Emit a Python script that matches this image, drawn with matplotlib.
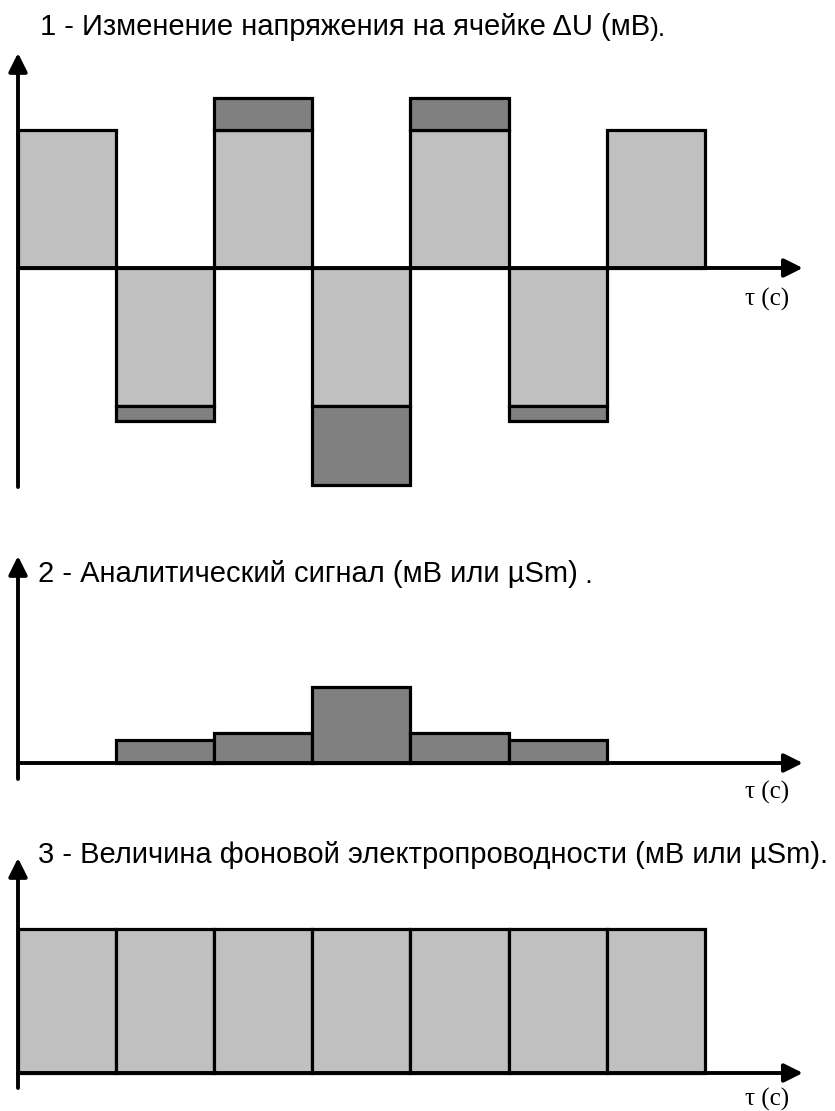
import numpy as np
import matplotlib.pyplot as plt

plt.rcParams['font.family'] = ['Liberation Sans', 'DejaVu Sans']

# --- data (условные единицы) ---
intervals = np.arange(7)                       # 7 интервалов времени
signs = np.array([1, -1, 1, -1, 1, -1, 1])     # полярность
base_du = 10.0                                 # фоновая часть ΔU
extra_du = np.array([0, 1.1, 2.3, 5.7, 2.3, 1.1, 0])   # аналитическая добавка
analytic = np.array([0, 1.7, 2.2, 5.5, 2.2, 1.7, 0])   # аналитический сигнал
background = np.array([10.4, 10.4, 10.4, 10.4, 10.4, 10.4, 10.4])

titles = ['1 - Изменение напряжения на ячейке ΔU (мВ',
          '2 - Аналитический сигнал (мВ или µSm)',
          '3 - Величина фоновой электропроводности (мВ или µSm).']
title_tails = [').', ' .', '']
xlabel = 'τ (с)'

light = '#c0c0c0'
dark = '#808080'

W, H = 835, 1111
px_x = 98.1     # пикселей на интервал
px_y = 13.8     # пикселей на единицу
x0 = 18         # положение оси y

fig = plt.figure(figsize=(W / 100, H / 100), dpi=100)


def make_ax(top, bottom, zero):
    ax = fig.add_axes([0, 1 - bottom / H, 1, (bottom - top) / H])
    ax.set_xlim(-x0 / px_x, (W - x0) / px_x)
    ax.set_ylim(-(bottom - zero) / px_y, (zero - top) / px_y)
    ax.axis('off')
    return ax


def axes_arrows(ax, ybot, ytop):
    ap = dict(arrowstyle='-|>', lw=2.8, color='black', mutation_scale=28,
              shrinkA=0, shrinkB=0)
    ax.annotate('', xy=(0, ytop), xytext=(0, ybot), arrowprops=ap)
    ax.annotate('', xy=(8.0, 0), xytext=(0, 0), arrowprops=ap)


# панель 1
ax1 = make_ax(40, 500, 268)
ax1.bar(intervals, signs * base_du, width=1, align='edge', color=light,
        edgecolor='black', lw=2.3, zorder=2)
m = extra_du > 0
ax1.bar(intervals[m], (signs * extra_du)[m], bottom=(signs * base_du)[m],
        width=1, align='edge', color=dark, edgecolor='black', lw=2.3, zorder=2)
axes_arrows(ax1, -(487 - 268) / px_y, (268 - 53) / px_y)
ax1.text(7.64, -2.3, xlabel, family='Liberation Serif', fontsize=18,
         ha='center', va='center')

# панель 2
ax2 = make_ax(545, 800, 763)
m = analytic > 0
ax2.bar(intervals[m], analytic[m], width=1, align='edge', color=dark,
        edgecolor='black', lw=2.3, zorder=2)
axes_arrows(ax2, -(779 - 763) / px_y, (763 - 556) / px_y)
ax2.text(7.64, -2.1, xlabel, family='Liberation Serif', fontsize=18,
         ha='center', va='center')

# панель 3
ax3 = make_ax(840, 1111, 1073)
ax3.bar(intervals, background, width=1, align='edge', color=light,
        edgecolor='black', lw=2.3, zorder=2)
axes_arrows(ax3, -(1088 - 1073) / px_y, (1073 - 858) / px_y)
ax3.text(7.64, -1.95, xlabel, family='Liberation Serif', fontsize=18,
         ha='center', va='center')

# заголовки
for (tx, ty), t, tail in zip([(40, 35), (38, 582), (38, 863)], titles, title_tails):
    tt = fig.text(tx / W, 1 - ty / H, t, fontsize=21, va='baseline', ha='left')
    if tail:
        fig.add_artist(plt.Annotation(tail, xy=(1, 0), xycoords=tt,
                                      fontsize=19, va='bottom', ha='left'))

fig.savefig('out.png', dpi=100)
